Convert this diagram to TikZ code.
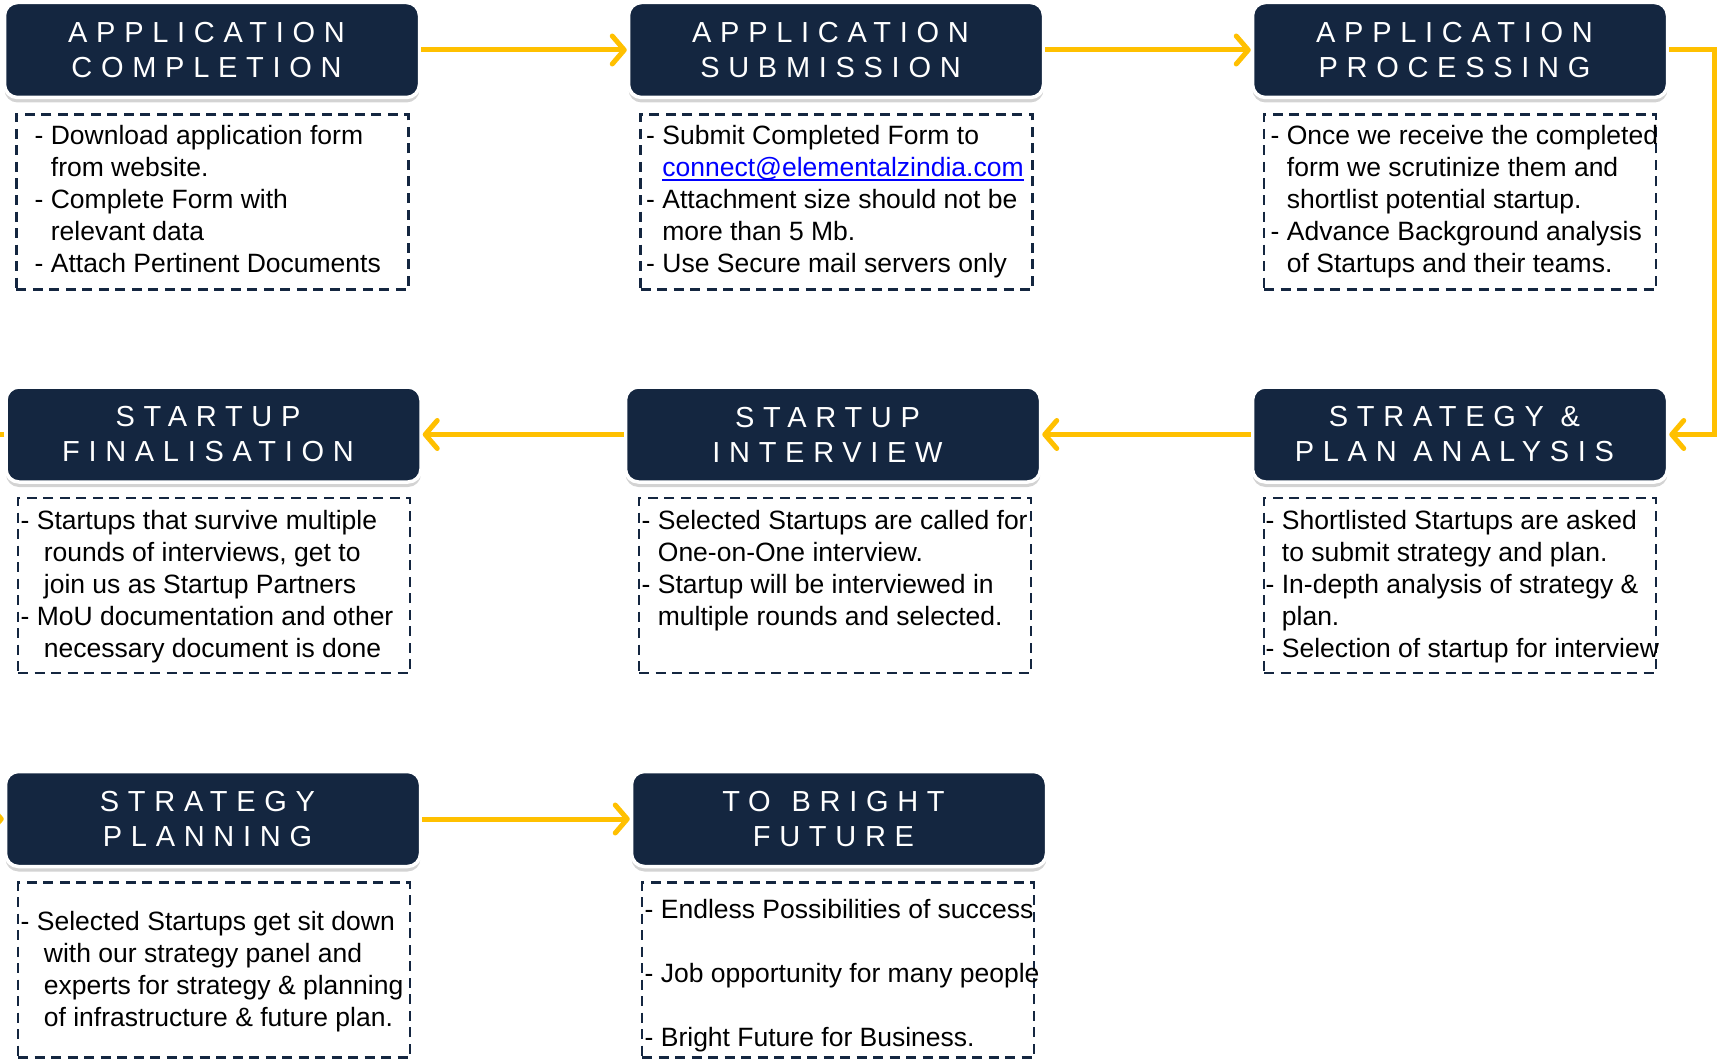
\documentclass[tikz,border=0pt]{standalone}
\usepackage{fontspec}
\setmainfont{Liberation Sans}
\newfontfamily\titlefont[LetterSpace=30]{Liberation Sans}
\usetikzlibrary{arrows.meta,shadows}
\definecolor{navy}{RGB}{20,38,64}
\definecolor{arrowyellow}{RGB}{255,192,0}
\definecolor{linkblue}{RGB}{0,0,255}
\newcommand\linktext[1]{\setbox0\hbox{#1}\rlap{\color{linkblue}\rule[-4pt]{\wd0}{1.8pt}}\textcolor{linkblue}{#1}}
\newcommand\ind{\phantom{- }}
\newcommand\ttl[2]{#1\kern11pt\\#2\kern11pt}
\tikzset{
 titlebox/.style={rectangle, rounded corners=13pt, fill=navy, draw=white, line width=3.5pt,
   minimum width=415pt, minimum height=95pt, inner sep=0pt, align=center, text=white,
   font=\titlefont\fontsize{29}{35}\selectfont,
   drop shadow={opacity=0.35, shadow xshift=0pt, shadow yshift=-5pt}},
 bodybox/.style={rectangle, draw=navy, line width=2.6pt, dash pattern=on 10pt off 6.5pt,
   minimum width=392pt, minimum height=175pt, inner sep=0pt},
 bodytext/.style={anchor=base west, inner sep=0pt, font=\fontsize{26.5}{32}\selectfont},
 flow/.style={draw=arrowyellow, line width=5pt, -{Straight Barb[length=12pt,width=28pt,round]}},
}
\begin{document}
\begin{tikzpicture}[x=1pt,y=-1pt]
\useasboundingbox (0,0) rectangle (1717,1062);
% title boxes
\node[titlebox] (h1) at (212,50) {\ttl{APPLICATION}{COMPLETION}};
\node[titlebox] (h2) at (836,50) {\ttl{APPLICATION}{SUBMISSION}};
\node[titlebox] (h3) at (1460,50) {\ttl{APPLICATION}{PROCESSING}};
\node[titlebox] (h4) at (1460,434.5) {\ttl{STRATEGY \&}{PLAN ANALYSIS}};
\node[titlebox] (h5) at (833,434.5) {\ttl{STARTUP}{INTERVIEW}};
\node[titlebox] (h6) at (213.5,434.5) {\ttl{STARTUP}{FINALISATION}};
\node[titlebox] (h7) at (213,819) {\ttl{STRATEGY}{PLANNING}};
\node[titlebox] (h8) at (839,819) {\ttl{TO\hspace{4pt} BRIGHT}{FUTURE}};
% body boxes
\node[bodybox] (b1) at (212.4,202) {};
\node[bodybox] (b2) at (836.5,202) {};
\node[bodybox] (b3) at (1460,202) {};
\node[bodybox] (b4) at (1460,585.5) {};
\node[bodybox] (b5) at (835,585.5) {};
\node[bodybox] (b6) at (214,585.5) {};
\node[bodybox] (b7) at (214,970) {};
\node[bodybox] (b8) at (838,970) {};
% body texts
\node[bodytext] (t1) at (34.5,145) {\begin{tabular}[t]{@{}l@{}}
- Download application form\\
\ind from website.\\
- Complete Form with\\
\ind relevant data\\
- Attach Pertinent Documents\end{tabular}};
\node[bodytext] (t2) at (646,145) {\begin{tabular}[t]{@{}l@{}}
- Submit Completed Form to\\
\ind\linktext{connect@elementalzindia.com}\\
- Attachment size should not be\\
\ind more than 5 Mb.\\
- Use Secure mail servers only\end{tabular}};
\node[bodytext] (t3) at (1270.5,145) {\begin{tabular}[t]{@{}l@{}}
- Once we receive the completed\\
\ind form we scrutinize them and\\
\ind shortlist potential startup.\\
- Advance Background analysis\\
\ind of Startups and their teams.\end{tabular}};
\node[bodytext] (t4) at (1265.5,529) {\begin{tabular}[t]{@{}l@{}}
- Shortlisted Startups are asked\\
\ind to submit strategy and plan.\\
- In-depth analysis of strategy \&\\
\ind plan.\\
- Selection of startup for interview\end{tabular}};
\node[bodytext] (t5) at (641.5,529) {\begin{tabular}[t]{@{}l@{}}
- Selected Startups are called for\\
\ind One-on-One interview.\\
- Startup will be interviewed in\\
\ind multiple rounds and selected.\end{tabular}};
\node[bodytext] (t6) at (20.5,529) {\begin{tabular}[t]{@{}l@{}}
- Startups that survive multiple\\
\ind\hspace{7pt}rounds of interviews, get to\\
\ind\hspace{7pt}join us as Startup Partners\\
- MoU documentation and other\\
\ind\hspace{7pt}necessary document is done\end{tabular}};
\node[bodytext] (t7) at (20.5,930) {\begin{tabular}[t]{@{}l@{}}
- Selected Startups get sit down\\
\ind\hspace{7pt}with our strategy panel and\\
\ind\hspace{7pt}experts for strategy \& planning\\
\ind\hspace{7pt}of infrastructure \& future plan.\end{tabular}};
\node[bodytext] (t8) at (644.5,918) {\begin{tabular}[t]{@{}l@{}}
- Endless Possibilities of success\\
\\
- Job opportunity for many people\\
\\
- Bright Future for Business.\end{tabular}};
% connectors
\coordinate (rc) at (1714.5,0);
\coordinate (lc) at (-30,0);
\draw[flow] (h1.east) -- (h2.west);
\draw[flow] (h2.east) -- (h3.west);
\draw[flow] (h3.east) -| (rc |- h4.east) -- (h4.east);
\draw[flow] (h4.west) -- (h5.east);
\draw[flow] (h5.west) -- (h6.east);
\draw[flow] (h6.west) -| (lc |- h7.west) -- (h7.west);
\draw[flow] (h7.east) -- (h8.west);
\end{tikzpicture}
\end{document}
